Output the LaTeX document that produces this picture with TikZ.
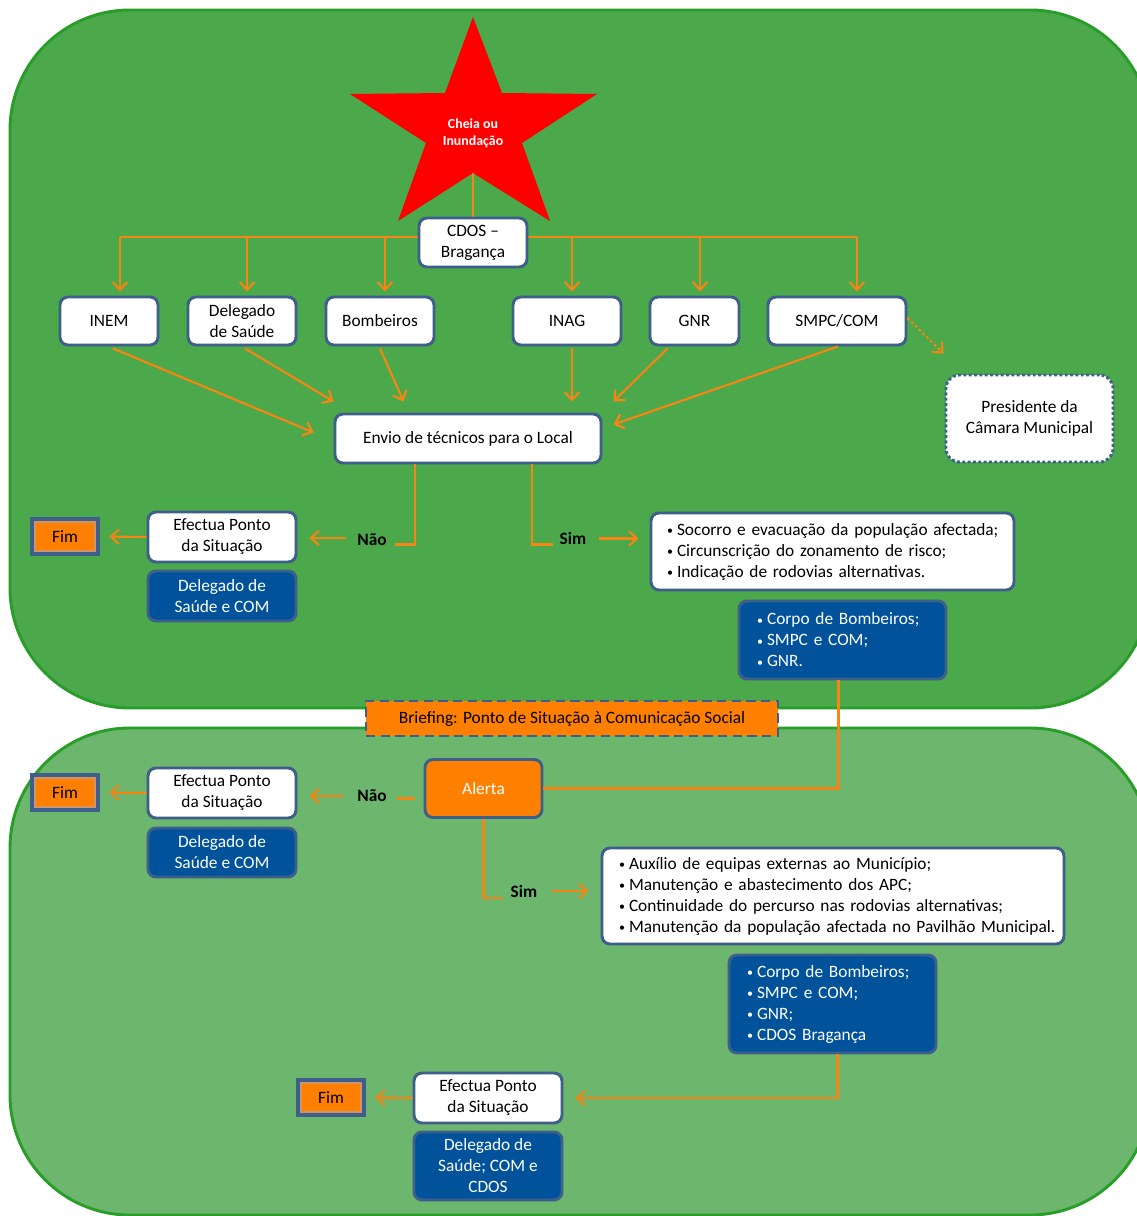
\documentclass[tikz,border=0pt]{standalone}
\usepackage{fontspec}
\setmainfont{Carlito}
\usetikzlibrary{arrows.meta,calc}
\definecolor{gtop}{RGB}{75,168,75}
\definecolor{gbot}{RGB}{109,182,109}
\definecolor{gline}{RGB}{40,158,40}
\definecolor{bord}{RGB}{62,94,140}
\definecolor{bluef}{RGB}{0,83,155}
\definecolor{orf}{RGB}{255,128,0}
\definecolor{orl}{RGB}{247,133,20}
\definecolor{fimtan}{RGB}{205,150,105}
\newcommand\myfs{\fontsize{13}{15.75}\selectfont}
\newcommand\blt[1]{\mbox{\makebox[7.5pt][l]{\raisebox{0.1ex}{\fontsize{9}{9}\selectfont •}}#1}}
\begin{document}
\begin{tikzpicture}[x=0.75pt,y=-0.75pt,
  box/.style 2 args={draw=bord, line width=2.2pt, rounded corners=6pt,
    minimum width=#1*0.75pt, minimum height=#2*0.75pt, inner sep=0pt,
    align=center, font=\myfs},
  wbox/.style 2 args={box={#1}{#2}, fill=white, text=black},
  bbox/.style 2 args={box={#1}{#2}, fill=bluef, text=white},
  lst/.style={align=left, text width=#1*0.75pt},
  fimbox/.style={fill=orf, draw=bord, line width=3pt, minimum width=66*0.75pt,
    minimum height=35*0.75pt, inner sep=0pt, font=\myfs, text=black},
  fimline/.style={draw=fimtan, line width=0.9pt},
  ln/.style={draw=orl, line width=1.6pt},
  arr/.style={draw=orl, line width=1.6pt, -{Straight Barb[length=6pt,width=11pt]}},
  lbl/.style={font=\myfs\bfseries, text=black, inner sep=0pt},
  panel/.style={draw=gline, line width=2.2pt, rounded corners=90pt}
]
\useasboundingbox (0,0) rectangle (1137,1216);
\fill[white] (0,0) rectangle (1137,1216);
\begin{scope}
\clip (0,0) rectangle (1137,1216);
\filldraw[panel, fill=gtop] (10,10) rectangle (1150,708);
\filldraw[panel, fill=gbot] (10,728) rectangle (1150,1215);
\end{scope}

% star
\fill[red] (473,17) -- (502,93) -- (597,94) -- (522,143) -- (550,221) -- (473,173)
  -- (398,221) -- (426,143) -- (350,94) -- (445,93) -- cycle;
\node[font=\fontsize{10.4}{12.75}\selectfont\bfseries, text=white, align=center] (star) at (473,133) {Cheia ou\\Inundação};
\coordinate (starb) at (473,173);

% bus
\coordinate (b1) at (120,237);
\coordinate (b2) at (247,237);
\coordinate (b3) at (385,237);
\coordinate (b4) at (572,237);
\coordinate (b5) at (700,237);
\coordinate (b6) at (857,237);
\draw[ln] (b1) -- (b6);
\draw[ln] (starb) -- (473,220);

% nodes
\node[wbox={108}{49}] (cdos) at (473,242.5) {CDOS –\\Bragança};
\node[wbox={98}{48}] (inem) at (109,321) {INEM};
\node[wbox={108}{48}] (deleg) at (242,321) {Delegado\\de Saúde};
\node[wbox={108}{48}] (bomb) at (380,321) {Bombeiros};
\node[wbox={108}{48}] (inag) at (567,321) {INAG};
\node[wbox={89}{48}] (gnr) at (694.5,321) {GNR};
\node[wbox={138}{48}] (smpc) at (837,321) {SMPC/COM};
\node[wbox={167}{87}, dash pattern=on 2.2pt off 1.8pt, rounded corners=10pt] (pres) at (1029.5,418.5) {Presidente da\\Câmara Municipal};
\node[wbox={266}{49}] (envio) at (468,438.5) {Envio de técnicos para o Local};

\node[wbox={148}{50}] (efec1) at (222,537) {Efectua Ponto\\da Situação};
\node[fimbox] (fim1) at (65,536.5) {Fim};
\node[bbox={148}{50}] (del1) at (222,596) {Delegado de\\Saúde e COM};
\node[wbox={363}{77}, lst=331] (sim1) at (832.5,551.5) {\blt{Socorro e evacuação da população afectada;}\\\blt{Circunscrição do zonamento de risco;}\\\blt{Indicação de rodovias alternativas.}};
\node[bbox={207}{78}, lst=171] (blue1) at (842.5,640) {\blt{Corpo de Bombeiros;}\\\blt{SMPC e COM;}\\\blt{GNR.}};

\node[box={412}{35}, fill=orf, text=black, rounded corners=0pt, dash pattern=on 7pt off 4pt] (brief) at (572,718.5) {Briefing: Ponto de Situação à Comunicação Social};

\node[box={117}{58}, fill=orf, text=white] (alerta) at (483.5,788.5) {Alerta};
\node[wbox={148}{50}] (efec2) at (222,793) {Efectua Ponto\\da Situação};
\node[fimbox] (fim2) at (65,792.5) {Fim};
\node[bbox={148}{49}] (del2) at (222,852.5) {Delegado de\\Saúde e COM};
\node[wbox={462}{96}, lst=428] (sim2) at (833,896) {\blt{Auxílio de equipas externas ao Município;}\\\blt{Manutenção e abastecimento dos APC;}\\\blt{Continuidade do percurso nas rodovias alternativas;}\\\blt{Manutenção da população afectada no Pavilhão Municipal.}};
\node[bbox={207}{98}, lst=171] (blue2) at (832.5,1004) {\blt{Corpo de Bombeiros;}\\\blt{SMPC e COM;}\\\blt{GNR;}\\\blt{CDOS Bragança}};

\node[wbox={148}{50}] (efec3) at (488,1098) {Efectua Ponto\\da Situação};
\node[fimbox] (fim3) at (331,1097.5) {Fim};
\node[bbox={148}{68}] (del3) at (488,1166) {Delegado de\\Saúde; COM e\\CDOS};

% inner lines of Fim boxes
\foreach \f in {fim1,fim2,fim3}{
  \draw[fimline] ($(\f.north west)+(5,5)$) rectangle ($(\f.south east)+(-5,-5)$);
}

% labels
\node[lbl] (nao1) at (372,540) {Não};
\node[lbl] (siml1) at (573,538) {Sim};
\node[lbl] (nao2) at (372,796) {Não};
\node[lbl] (siml2) at (524,891) {Sim};

% bus arrows
\foreach \b/\n in {b1/inem,b2/deleg,b3/bomb,b4/inag,b5/gnr,b6/smpc}{
  \draw[arr, shorten >=3pt] (\b) -- (\b |- \n.north);
}

% arrows to envio
\draw[arr] ($(inem.south)+(4,2)$) -- ($(envio.west)+(-20,-6)$);
\draw[arr] ($(deleg.south)+(3,2)$) -- ($(envio.north west)+(0,-11)$);
\draw[arr] ($(bomb.south)+(0,2)$) -- ($(envio.north west)+(70,-11)$);
\draw[arr] ($(inag.south)+(5,2)$) -- ($(envio.north)+(104,-11)$);
\draw[arr] ($(gnr.south)+(-27,2)$) -- ($(envio.north east)+(11,-11)$);
\draw[arr] ($(smpc.south)+(1,0)$) -- ($(envio.east)+(11,-14)$);
\draw[arr, dash pattern=on 2pt off 2pt] ($(smpc.east)+(0,-3)$) -- ($(pres.north west)+(-1,-20)$);

% decision 1
\draw[ln] ($(envio.south)+(-53,0)$) |- ($(envio.south)+(-73,80)$);
\draw[ln] ($(envio.south)+(64,0)$) |- ($(envio.south)+(85,80)$);
\draw[arr] ($(efec1.east)+(49,1)$) -- ($(efec1.east)+(12,1)$);
\draw[arr] ($(sim1.west)+(-51,-13)$) -- ($(sim1.west)+(-11,-13)$);
\draw[arr, shorten >=7pt] (efec1.west) -- (fim1.east);

% to alerta
\draw[ln] ($(blue1.south)+(-4,0)$) |- (alerta.east);

% decision 2
\draw[ln] ($(alerta.west)+(-9,10)$) -- ($(alerta.west)+(-27,10)$);
\draw[arr] ($(efec2.east)+(47,3)$) -- ($(efec2.east)+(12,3)$);
\draw[arr, shorten >=7pt] (efec2.west) -- (fim2.east);
\draw[ln] (alerta.south) |- ($(alerta.south)+(19,79)$);
\draw[arr] ($(sim2.west)+(-49,-5)$) -- ($(sim2.west)+(-12,-5)$);

% final
\draw[arr, shorten >=9pt] ($(blue2.south)+(5,0)$) |- (efec3.east);
\draw[arr, shorten >=7pt] (efec3.west) -- (fim3.east);
\end{tikzpicture}
\end{document}
